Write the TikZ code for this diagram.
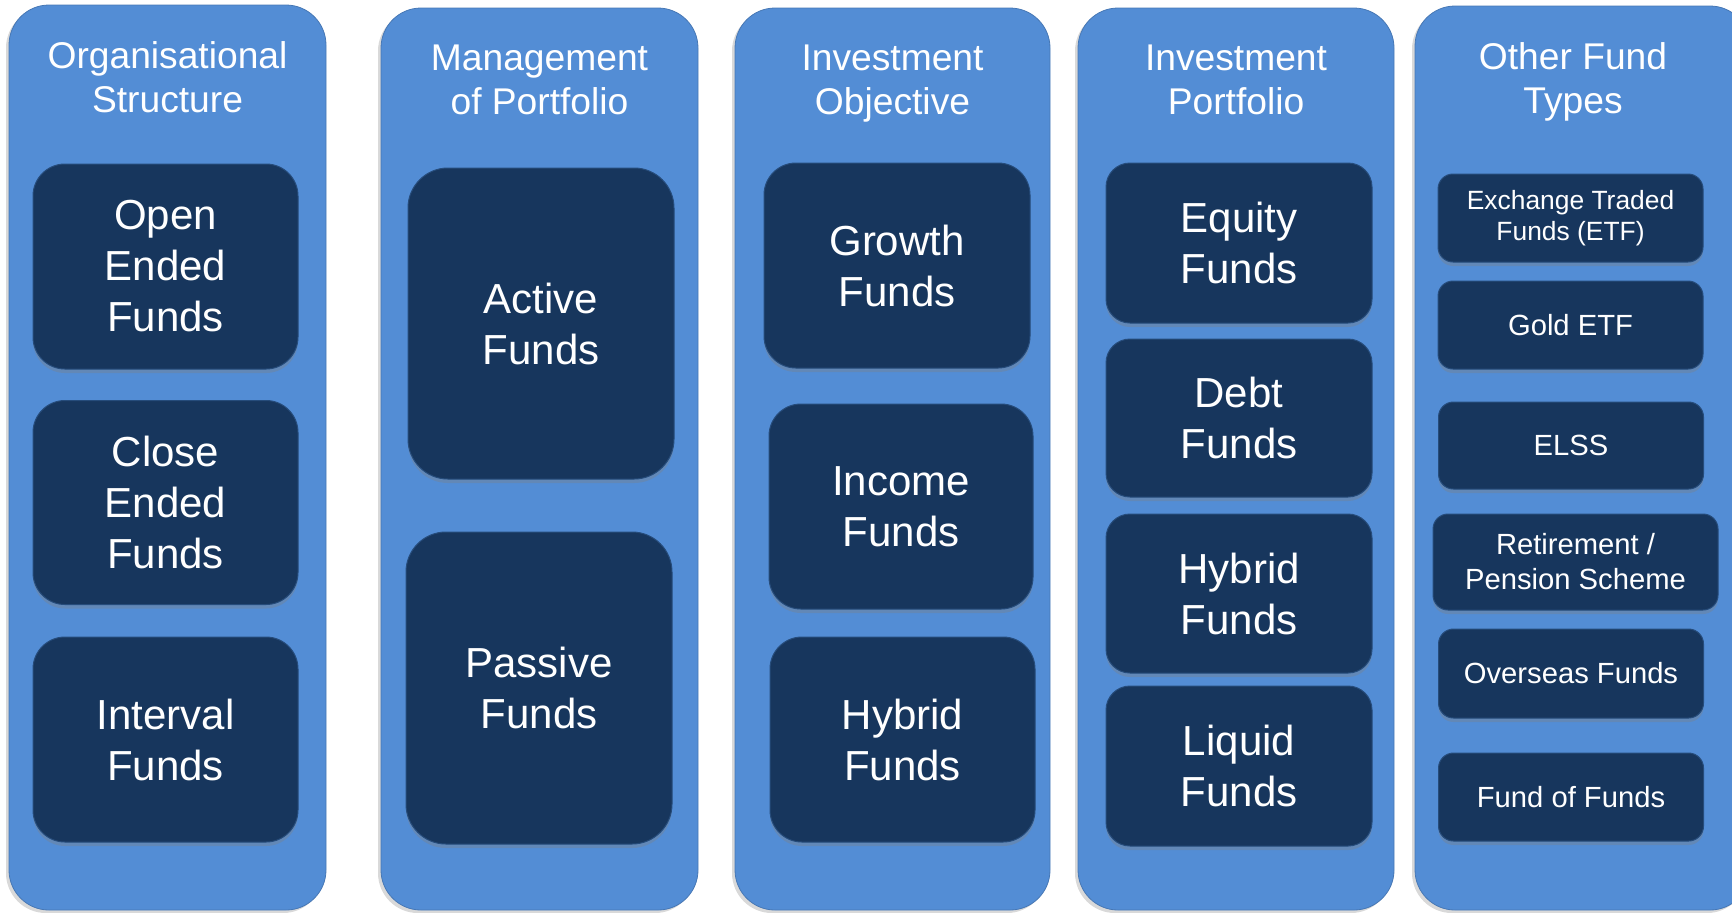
\documentclass[tikz,border=0pt]{standalone}
\usepackage{fontspec}
\setmainfont{Liberation Sans}
\usetikzlibrary{shadows}

\definecolor{colblue}{RGB}{83,141,213}
\definecolor{boxnavy}{RGB}{23,54,93}

\tikzset{
	column/.style={fill=colblue, draw=colblue!85!black, line width=0.4pt, rounded corners=20pt,
		drop shadow={shadow xshift=-1.5pt, shadow yshift=-1.5pt, opacity=0.3}},
	heading/.style={text=white, align=center, font=\fontsize{18.6}{22}\selectfont},
	fund/.style={fill=boxnavy, draw=boxnavy!75!colblue, line width=0.5pt, text=white, align=center,
		inner sep=0pt, rounded corners=16pt, font=\fontsize{21}{25.5}\selectfont,
		drop shadow={shadow xshift=0pt, shadow yshift=-2pt, opacity=0.35}},
	smallfund/.style={fund, rounded corners=7.5pt, font=\fontsize{14.6}{17.5}\selectfont}}

\begin{document}
\begin{tikzpicture}[x=0.5pt,y=0.5pt,yscale=-1,xscale=1]
	\useasboundingbox (0,0) rectangle (1732,912);

	%Columns
	\path [column] (9,5) rectangle (326,910);
	\path [column] (381,8) rectangle (698,910);
	\path [column] (735,8) rectangle (1050,910);
	\path [column] (1078,8) rectangle (1394,910);
	\path [column] (1415,6) rectangle (1750,910);

	% Headings
	\node [heading] (orghead) at (167.5,77) {Organisational\\Structure};
	\node [heading] (mgmthead) at (539.5,79.5) {Management\\of Portfolio};
	\node [heading] (objhead) at (892.5,84) {Investment\\Objective};
	\node [heading] (porthead) at (1236,80) {Investment\\Portfolio};
	\node [heading] (otherhead) at (1573,82) {Other Fund\\Types};

	% Organisational structure
	\node [fund, minimum width=132.5pt, minimum height=102.5pt] (openend) at (165.5,266.5) {Open\\Ended\\Funds};
	\node [fund, minimum width=132.5pt, minimum height=102pt] (closeend) at (165.5,502.5) {Close\\Ended\\Funds};
	\node [fund, minimum width=132.5pt, minimum height=102.5pt] (interval) at (165.5,739.5) {Interval\\Funds};

	% Management of portfolio
	\node [fund, rounded corners=20pt, minimum width=133pt, minimum height=155.5pt] (active) at (541,323.5) {Active\\Funds};
	\node [fund, rounded corners=20pt, minimum width=133pt, minimum height=156pt] (passive) at (539,688) {Passive\\Funds};

	% Investment objective
	\node [fund, minimum width=133pt, minimum height=102.5pt] (growth) at (897,265.5) {Growth\\Funds};
	\node [fund, minimum width=132pt, minimum height=102.5pt] (income) at (901,506.5) {Income\\Funds};
	\node [fund, minimum width=132.5pt, minimum height=102.5pt] (hybridobj) at (902.5,739.5) {Hybrid\\Funds};

	% Investment portfolio
	\node [fund, rounded corners=12pt, minimum width=133pt, minimum height=80pt] (equity) at (1239,243) {Equity\\Funds};
	\node [fund, rounded corners=12pt, minimum width=133pt, minimum height=79pt] (debt) at (1239,418) {Debt\\Funds};
	\node [fund, rounded corners=12pt, minimum width=133pt, minimum height=79.5pt] (hybridport) at (1239,593.5) {Hybrid\\Funds};
	\node [fund, rounded corners=12pt, minimum width=133pt, minimum height=80pt] (liquid) at (1239,766) {Liquid\\Funds};

	% Other fund types
	\node [smallfund, font=\fontsize{13.2}{15.5}\selectfont, minimum width=132.5pt, minimum height=44pt] (etf) at (1570.5,218) {Exchange Traded\\Funds (ETF)};
	\node [smallfund, minimum width=132.5pt, minimum height=44pt] (gold) at (1570.5,325) {Gold ETF};
	\node [smallfund, minimum width=132.5pt, minimum height=43.5pt] (elss) at (1571,445.5) {ELSS};
	\node [smallfund, minimum width=142.5pt, minimum height=48pt] (retire) at (1575.5,562) {Retirement /\\Pension Scheme};
	\node [smallfund, minimum width=132.5pt, minimum height=44.5pt] (overseas) at (1571,673.5) {Overseas Funds};
	\node [smallfund, minimum width=132.5pt, minimum height=44pt] (fof) at (1571,797) {Fund of Funds};

\end{tikzpicture}
\end{document}
